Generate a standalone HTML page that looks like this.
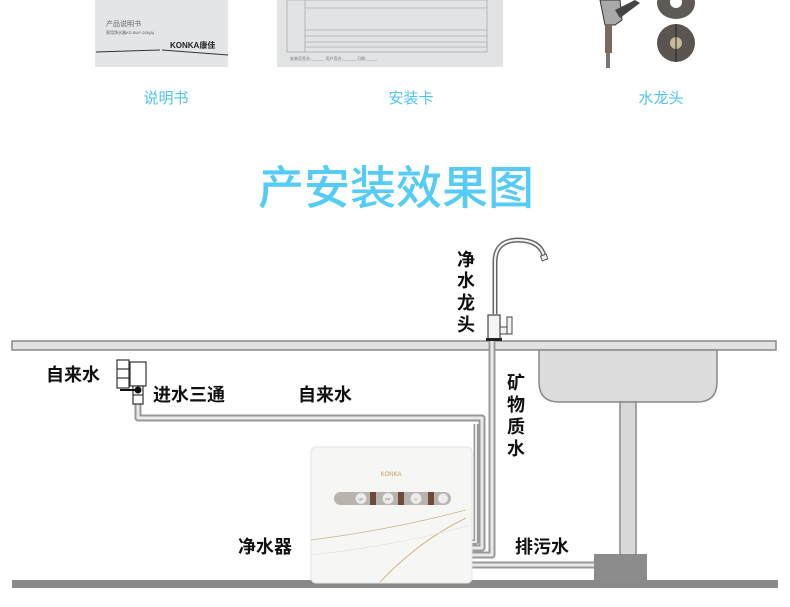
<!DOCTYPE html>
<html><head><meta charset="utf-8"><style>
html,body{margin:0;padding:0;background:#fff;}
svg{display:block;}
text{font-family:"Liberation Sans","Noto Sans CJK SC",sans-serif;}
</style></head><body>
<svg width="790" height="607" viewBox="0 0 790 607" xmlns="http://www.w3.org/2000/svg">
<rect x="95" y="0" width="133" height="67" fill="#e4e5e6"/>
<text x="106" y="26" font-size="7" fill="#666">产品说明书</text>
<text x="106" y="34" font-size="4" fill="#555">家用净水器KD-BUF-026(A)</text>
<line x1="96" y1="52" x2="160" y2="50" stroke="#333" stroke-width="1"/>
<line x1="162" y1="50" x2="228" y2="55" stroke="#333" stroke-width="1"/>
<text x="170" y="48" font-size="8" fill="#222" font-weight="bold">KONKA康佳</text>
<rect x="277" y="0" width="226" height="67" fill="#e2e3e4"/>
<g stroke="#999" stroke-width="0.6" fill="none">
<rect x="287" y="0" width="200" height="52"/>
<line x1="305" y1="8" x2="487" y2="8"/><line x1="305" y1="30" x2="487" y2="30"/>
<line x1="305" y1="36" x2="487" y2="36"/><line x1="305" y1="42" x2="487" y2="42"/><line x1="305" y1="47" x2="487" y2="47"/>
<line x1="305" y1="0" x2="305" y2="52"/>
</g>
<text x="290" y="60" font-size="4" fill="#777">安装员签名:______ 用户签名:______ 日期:_____</text>
<path d="M600 0 L620 0 L622 20 L615 25 L605 25 Z" fill="#aaa" stroke="#333" stroke-width="1"/>
<path d="M615 10 L635 0 L640 3 L620 18Z" fill="#444"/>
<rect x="605" y="25" width="7" height="28" fill="#7a6a60"/>
<rect x="606" y="53" width="4" height="15" fill="#777"/>
<ellipse cx="676" cy="3" rx="19" ry="16" fill="#5e5a55"/><circle cx="676" cy="2" r="6" fill="#fff"/>
<circle cx="676" cy="43" r="19" fill="#5a5550"/><circle cx="676" cy="43" r="6" fill="#c9b89a"/>
<line x1="676" y1="24" x2="676" y2="62" stroke="#222" stroke-width="1"/>
<text x="166" y="103" font-size="15" fill="#4cc3f0" text-anchor="middle">说明书</text>
<text x="411" y="103" font-size="15" fill="#4cc3f0" text-anchor="middle">安装卡</text>
<text x="661" y="103" font-size="15" fill="#4cc3f0" text-anchor="middle">水龙头</text>
<text x="396" y="204" font-size="46" fill="#55ccf5" text-anchor="middle" font-weight="500">产安装效果图</text>
<rect x="12" y="341" width="764" height="9" fill="#e2e2e2" stroke="#8a8a8a" stroke-width="1.5"/>
<path d="M539 350 L717 350 L717 382 Q717 402 697 402 L559 402 Q539 402 539 382 Z" fill="#dcdcdc" stroke="#888" stroke-width="1.5"/>
<rect x="620" y="402" width="16" height="153" fill="#d8d8d8" stroke="#888" stroke-width="1.5"/>
<rect x="594" y="554" width="53" height="34" fill="#8c8c8c"/>
<rect x="12" y="580" width="766" height="8" fill="#8a8a8a"/>
<g fill="none" stroke-linejoin="round">
<path d="M138 402 L138 418 L482 418 L482 548 L470 548" stroke="#999" stroke-width="7"/>
<path d="M138 402 L138 418 L482 418 L482 548 L470 548" stroke="#eaeaea" stroke-width="3"/>
<path d="M476 424 L476 542 L470 542" stroke="#999" stroke-width="5"/>
<path d="M476 424 L476 542 L470 542" stroke="#eaeaea" stroke-width="2"/>
<path d="M492 341 L492 555 L470 555" stroke="#999" stroke-width="7"/>
<path d="M492 341 L492 555 L470 555" stroke="#eaeaea" stroke-width="3"/>
<path d="M470 565 L594 565" stroke="#999" stroke-width="7"/>
<path d="M470 565 L594 565" stroke="#eaeaea" stroke-width="3"/>
</g>
<path d="M495 314 L495 262 Q495 241 517 240 Q540 240 544 256" fill="none" stroke="#666" stroke-width="5"/>
<path d="M495 314 L495 262 Q495 241 517 240 Q540 240 544 256" fill="none" stroke="#f4f4f4" stroke-width="2"/>
<rect x="541" y="255" width="6" height="5" fill="#eee" stroke="#555" transform="rotate(-20 544 257)"/>
<rect x="488" y="315" width="12" height="25" fill="#f4f4f4" stroke="#444" stroke-width="1.2"/>
<rect x="500" y="327" width="8" height="7" fill="#f4f4f4" stroke="#444" stroke-width="1"/>
<rect x="507" y="317" width="5" height="17" fill="#f4f4f4" stroke="#444" stroke-width="1"/>
<rect x="486" y="338" width="16" height="3" fill="#222"/>
<g stroke="#333" stroke-width="1.2" fill="#fff">
<rect x="130" y="362" width="16" height="24"/>
<rect x="117" y="360" width="12" height="28"/>
<line x1="117" y1="369" x2="129" y2="369"/><line x1="117" y1="378" x2="129" y2="378"/>
<rect x="133" y="386" width="10" height="18"/>
<line x1="133" y1="395" x2="143" y2="395"/>
</g>
<line x1="120" y1="390" x2="138" y2="390" stroke="#111" stroke-width="2"/>
<circle cx="138" cy="390" r="3.5" fill="#111"/>
<rect x="311" y="447" width="161" height="136" rx="5" fill="#f6f7f5" stroke="#e2e4e0" stroke-width="1"/>
<text x="391" y="476" font-size="6" fill="#c79a4b" text-anchor="middle">KONKA</text>
<rect x="334" y="492" width="117" height="13" rx="6.5" fill="#b8b3ad"/>
<g fill="#ececec" stroke="#ccc" stroke-width="0.6">
<circle cx="361" cy="498.5" r="5.5"/><circle cx="388" cy="498.5" r="5.5"/><circle cx="416" cy="498.5" r="5.5"/><circle cx="443" cy="498.5" r="5"/>
</g>
<g fill="#6e4a3a"><rect x="370" y="492" width="6" height="13"/><rect x="398" y="492" width="6" height="13"/><rect x="428" y="492" width="6" height="13"/></g>
<text x="361" y="500.5" font-size="4" fill="#777" text-anchor="middle">UF</text>
<text x="388" y="500.5" font-size="4" fill="#777" text-anchor="middle">PP</text>
<text x="416" y="500.5" font-size="4" fill="#777" text-anchor="middle">C</text>
<path d="M311 540 Q390 530 466 510" fill="none" stroke="#c9b38a" stroke-width="0.8"/>
<path d="M380 582 Q420 540 466 518" fill="none" stroke="#c9a86a" stroke-width="0.8"/>
<path d="M311 555 Q400 545 470 525" fill="none" stroke="#ddd" stroke-width="0.6"/>
<g font-size="18" fill="#111" font-weight="bold">
<text x="46" y="381">自来水</text>
<text x="153" y="401">进水三通</text>
<text x="298" y="401">自来水</text>
<text x="238" y="553">净水器</text>
<text x="515" y="553">排污水</text>
<text x="457" y="266">净</text><text x="457" y="287">水</text><text x="457" y="309">龙</text><text x="457" y="331">头</text>
<text x="507" y="389">矿</text><text x="507" y="411">物</text><text x="507" y="433">质</text><text x="507" y="455">水</text>
</g>
</svg>
</body></html>
